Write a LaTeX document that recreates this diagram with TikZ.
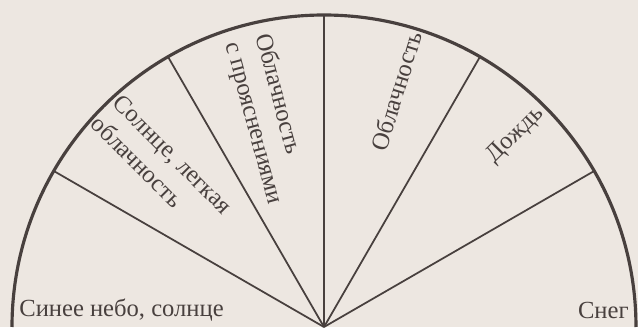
\documentclass[tikz,border=0pt]{standalone}
\usepackage{fontspec}
\setmainfont{Liberation Serif}
\definecolor{paper}{RGB}{237,231,225}
\definecolor{ink}{RGB}{72,64,62}
\usetikzlibrary{positioning, calc}

\begin{document}
\begin{tikzpicture}[
    x=0.2mm, y=0.2mm,
    ray/.style={draw=ink, line width=1pt},
    rim/.style={draw=ink, line width=1.8pt},
    label/.style={text=ink, inner sep=0pt, align=left, font=\fontsize{14}{17.5}\selectfont}
]
  % paper
  \fill[paper] (-324, 0) rectangle (314, 327);

  % half dial
  \coordinate (C) at (0, 0);
  \draw[rim] (-312, 0) arc[start angle=180, end angle=0, radius=312];

  % sector borders
  \coordinate (R30) at (30:312);
  \coordinate (R60) at (60:312);
  \coordinate (R90) at (90:312);
  \coordinate (R120) at (120:312);
  \coordinate (R150) at (150:312);
  \draw[ray] (C) -- (R30);
  \draw[ray] (C) -- (R60);
  \draw[ray] (C) -- (R90);
  \draw[ray] (C) -- (R120);
  \draw[ray] (C) -- (R150);

  % weather labels
  \node[label, anchor=base west] (SKY) at (-305, 10) {Синее небо, солнце};
  \node[label, rotate=-45] (SUN) at (135:229) {Солнце, легкая\\облачность};
  \node[label, rotate=-75] (PART) at (105:215) {Облачность\\с прояснениями};
  \node[label, rotate=73] (CLOUD) at (73:247) {Облачность};
  \node[label, rotate=45] (RAIN) at (45:271) {Дождь};
  \node[label, anchor=base east] (SNOW) at (305, 8) {Снег};
\end{tikzpicture}
\end{document}
